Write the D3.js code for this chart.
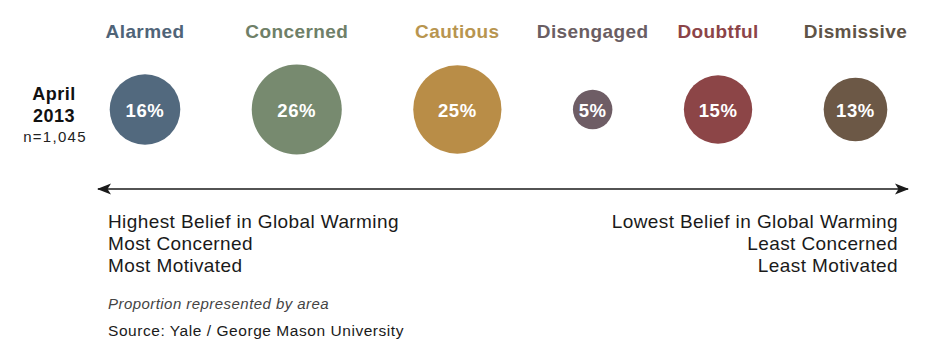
<!DOCTYPE html>
<html>
<head>
<meta charset="utf-8">
<script src="https://cdn.jsdelivr.net/npm/d3@7"></script>
<style>
  html, body { margin: 0; padding: 0; background: #ffffff; }
  svg { display: block; font-family: "Liberation Sans", Arial, Helvetica, sans-serif; }
</style>
</head>
<body>
<svg id="chart" width="946" height="355"></svg>
<script>
// ---- data ----
const categories = ["Alarmed", "Concerned", "Cautious", "Disengaged", "Doubtful", "Dismissive"];
const percents = [16, 26, 25, 5, 15, 13];
const circleColors = ["#52697e", "#778a6f", "#b98d47", "#6e5d65", "#8c4547", "#6c5846"];
const titleColors = ["#4f6478", "#6f8068", "#b8954f", "#6a5e63", "#8c4448", "#5f5447"];
const surveyLabel = ["April", "2013"];
const sampleLabel = "n=1,045";
const leftNotes = ["Highest Belief in Global Warming", "Most Concerned", "Most Motivated"];
const rightNotes = ["Lowest Belief in Global Warming", "Least Concerned", "Least Motivated"];
const footNote = "Proportion represented by area";
const sourceNote = "Source: Yale / George Mason University";

// ---- layout ----
const svg = d3.select("#chart");
const cy = 109.5;
const r = d3.scaleSqrt().domain([0, 26]).range([0, 45]);

// pack circles left to right with equal gaps between edges
const firstX = 145, lastX = 855.5;
const radii = percents.map(p => r(p));
let pairSum = 0;
for (let i = 1; i < radii.length; i++) pairSum += radii[i - 1] + radii[i];
const gap = (lastX - firstX - pairSum) / (radii.length - 1);
const xs = [firstX];
for (let i = 1; i < radii.length; i++) xs.push(xs[i - 1] + radii[i - 1] + gap + radii[i]);

const data = categories.map((c, i) => ({
  cat: c, p: percents[i], x: xs[i], r: radii[i],
  color: circleColors[i], tcolor: titleColors[i]
}));

// titles
svg.selectAll("text.title").data(data).join("text")
  .attr("class", "title")
  .attr("x", d => d.x).attr("y", 38)
  .attr("text-anchor", "middle")
  .attr("font-size", 19).attr("font-weight", "bold")
  .attr("letter-spacing", 0.4)
  .attr("fill", d => d.tcolor)
  .text(d => d.cat);

// circles
svg.selectAll("circle.bub").data(data).join("circle")
  .attr("class", "bub")
  .attr("cx", d => d.x).attr("cy", cy)
  .attr("r", d => d.r)
  .attr("fill", d => d.color);

// percent labels
svg.selectAll("text.pct").data(data).join("text")
  .attr("class", "pct")
  .attr("x", d => d.x).attr("y", cy + 7)
  .attr("text-anchor", "middle")
  .attr("font-size", 18.5).attr("font-weight", "bold")
  .attr("letter-spacing", 0.6)
  .attr("fill", "#ffffff")
  .text(d => d.p + "%");

// left label
svg.selectAll("text.survey").data(surveyLabel).join("text")
  .attr("class", "survey")
  .attr("x", 54).attr("y", (d, i) => 100 + i * 22)
  .attr("text-anchor", "middle")
  .attr("font-size", 18).attr("font-weight", "bold")
  .attr("letter-spacing", 0.5)
  .attr("fill", "#111")
  .text(d => d);
svg.append("text")
  .attr("x", 55).attr("y", 142)
  .attr("text-anchor", "middle")
  .attr("font-size", 15)
  .attr("letter-spacing", 1.3)
  .attr("fill", "#222")
  .text(sampleLabel);

// arrow
const defs = svg.append("defs");
defs.append("marker")
  .attr("id", "arr")
  .attr("viewBox", "0 0 14 12")
  .attr("refX", 13).attr("refY", 6)
  .attr("markerWidth", 14).attr("markerHeight", 12)
  .attr("markerUnits", "userSpaceOnUse")
  .attr("orient", "auto-start-reverse")
  .append("path").attr("d", "M0,0.5 L14,6 L0,11.5 L3.5,6 Z").attr("fill", "#1a1a1a");
svg.append("line")
  .attr("x1", 98).attr("x2", 908)
  .attr("y1", 189).attr("y2", 189)
  .attr("stroke", "#1a1a1a").attr("stroke-width", 1.5)
  .attr("marker-start", "url(#arr)")
  .attr("marker-end", "url(#arr)");

// notes
svg.selectAll("text.lnote").data(leftNotes).join("text")
  .attr("class", "lnote")
  .attr("x", 108).attr("y", (d, i) => 228 + i * 22)
  .attr("font-size", 19).attr("letter-spacing", 0.4)
  .attr("fill", "#1a1a1a")
  .text(d => d);
svg.selectAll("text.rnote").data(rightNotes).join("text")
  .attr("class", "rnote")
  .attr("x", 898).attr("y", (d, i) => 228 + i * 22)
  .attr("text-anchor", "end")
  .attr("font-size", 19).attr("letter-spacing", 0.4)
  .attr("fill", "#1a1a1a")
  .text(d => d);

svg.append("text")
  .attr("x", 108).attr("y", 309)
  .attr("font-size", 15).attr("font-style", "italic")
  .attr("letter-spacing", 0.45)
  .attr("fill", "#444")
  .text(footNote);
svg.append("text")
  .attr("x", 108).attr("y", 336)
  .attr("font-size", 15.5).attr("letter-spacing", 0.55)
  .attr("fill", "#1a1a1a")
  .text(sourceNote);
</script>
</body>
</html>
